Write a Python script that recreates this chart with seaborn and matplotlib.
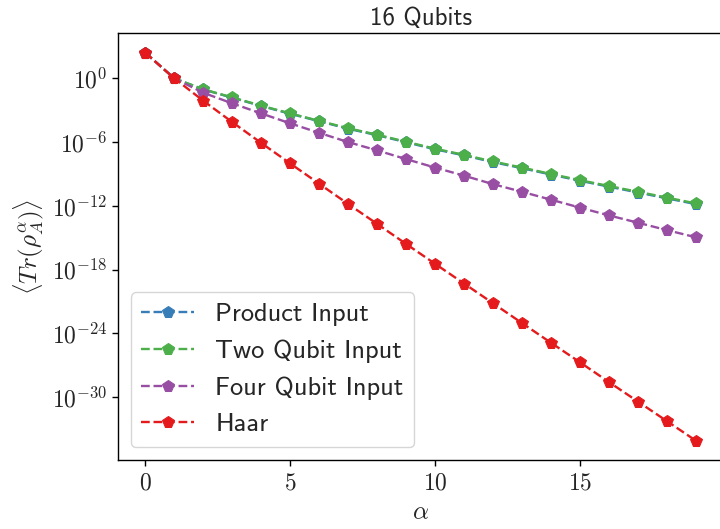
import numpy as np
import pandas as pd
import matplotlib
matplotlib.use("Agg")
import matplotlib.pyplot as plt
import seaborn as sns
from matplotlib.ticker import FixedLocator, FuncFormatter, NullLocator

# Valores (16 qubits, subsistema A)
alpha = list(range(20))

product_input = [2.56e2, 1.0, 9.0e-2, 1.5e-2, 2.5e-3, 4.6e-4, 9.2e-5, 1.8e-5, 4.5e-6, 9.6e-7,
                 2.1e-7, 5.6e-8, 1.3e-8, 3.5e-9, 8.8e-10, 2.3e-10, 6.4e-11, 1.8e-11, 5.1e-12, 1.45e-12]
two_qubit = [2.56e2, 1.0, 9.3e-2, 1.6e-2, 2.7e-3, 5.0e-4, 1.0e-4, 2.0e-5, 5.0e-6, 1.07e-6,
             2.4e-7, 6.3e-8, 1.5e-8, 4.0e-9, 1.0e-9, 2.6e-10, 7.4e-11, 2.1e-11, 6.0e-12, 1.7e-12]
four_qubit = [2.56e2, 1.0, 4.4e-2, 4.4e-3, 5.0e-4, 5.8e-5, 7.4e-6, 1.0e-6, 1.66e-7, 2.5e-8,
              4.0e-9, 6.9e-10, 1.1e-10, 2.1e-11, 3.8e-12, 6.8e-13, 1.26e-13, 2.6e-14, 5.2e-15, 1.1e-15]
haar = [2.56e2, 1.0, 7.8e-3, 7.6e-5, 8.3e-7, 9.8e-9, 1.2e-10, 1.5e-12, 2.0e-14, 2.6e-16,
        3.5e-18, 4.9e-20, 6.8e-22, 9.3e-24, 1.3e-25, 1.9e-27, 2.6e-29, 3.8e-31, 5.5e-33, 7.9e-35]

labels = ['Product Input', 'Two Qubit Input', 'Four Qubit Input', 'Haar']
series = [product_input, two_qubit, four_qubit, haar]
colors = sns.color_palette('Set1', 4)
colors = [colors[1], colors[2], colors[3], colors[0]]

y_ticks = [1e0, 1e-6, 1e-12, 1e-18, 1e-24, 1e-30]

sns.set_style('white')
plt.rcParams['mathtext.fontset'] = 'cm'
plt.rcParams['axes.edgecolor'] = 'black'

fig = plt.figure(figsize=(7.2, 5.29), dpi=100)
ax = fig.add_axes([0.1635, 0.130, 0.8415, 0.807])

for lab, vals, col in zip(labels, series, colors):
    sns.lineplot(x=alpha, y=vals, ax=ax, label=lab, color=col, marker='p',
                 linestyle='--', markersize=8.5, markeredgecolor=col, linewidth=1.7)

ax.set_yscale('log')
ax.yaxis.set_major_locator(FixedLocator(y_ticks))
ax.yaxis.set_minor_locator(NullLocator())
ax.yaxis.set_major_formatter(FuncFormatter(lambda v, p: r'$10^{%d}$' % round(np.log10(v))))
ax.xaxis.set_major_formatter(FuncFormatter(lambda v, p: r'$%d$' % v))
ax.tick_params(axis='both', which='major', labelsize=17, length=4, width=1, color='black',
               bottom=True, left=True)
for s in ax.spines.values():
    s.set_color('black')
    s.set_linewidth(1)

ax.set_xlabel(r'$\alpha$', fontsize=18)
ax.set_ylabel(r'$\langle Tr(\rho_A^\alpha)\rangle$', fontsize=18)
ax.set_title('16 Qubits', fontsize=18, family='cmss10')

leg = ax.legend(loc='lower left', prop={'family': 'cmss10', 'size': 19}, frameon=True)

fig.savefig('out.png', dpi=100)
